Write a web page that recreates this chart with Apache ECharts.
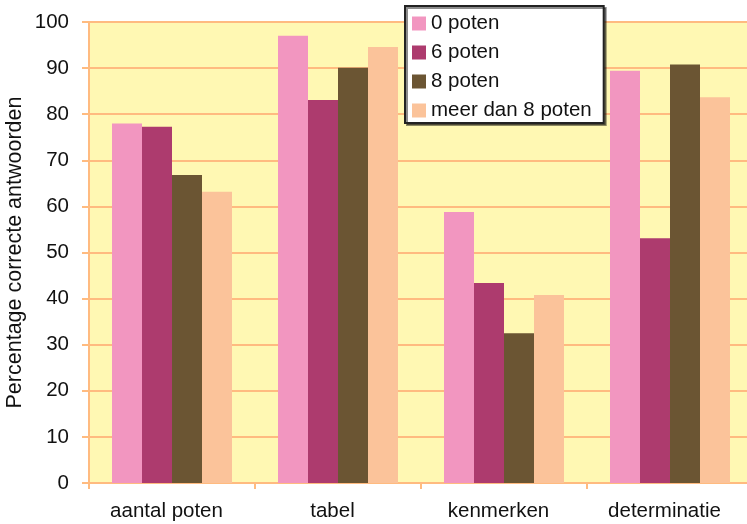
<!DOCTYPE html>
<html><head><meta charset="utf-8">
<script src="https://cdn.jsdelivr.net/npm/echarts@6/dist/echarts.min.js"></script>
<style>html,body{margin:0;padding:0;background:#fff}#c{width:747px;height:524px}</style>
</head><body><div id="c"></div>
<script>
const categories = ['aantal poten', 'tabel', 'kenmerken', 'determinatie'];
const seriesNames = ['0 poten', '6 poten', '8 poten', 'meer dan 8 poten'];
const poten0 = [78.0, 97.0, 58.8, 89.4];
const poten6 = [77.3, 83.1, 43.4, 53.1];
const poten8 = [66.8, 90.1, 32.5, 90.8];
const potenMeer = [63.2, 94.6, 40.8, 83.7];
const yTicks = [0, 10, 20, 30, 40, 50, 60, 70, 80, 90, 100];
const colors = ['#F296C0', '#AD3B6E', '#6B5533', '#FBC39A'];
const values = [poten0, poten6, poten8, potenMeer];

const chart = echarts.init(document.getElementById('c'), null, {renderer: 'canvas'});
const font = 'Liberation Sans, Arial, sans-serif';
const fs = 20.5;
chart.setOption({
  animation: false,
  color: colors,
  grid: {left: 89, width: 664, top: 22, bottom: 41, show: true, backgroundColor: '#FFF8B3', borderWidth: 0,
         containLabel: false, outerBoundsMode: 'none'},
  legend: {
    orient: 'vertical', left: 405, top: 6,
    backgroundColor: '#fff', borderColor: '#222', borderWidth: 2,
    padding: [7, 12, 2, 7],
    shadowColor: 'rgba(0,0,0,0.45)', shadowOffsetX: 2, shadowOffsetY: 2, shadowBlur: 0,
    icon: 'rect', itemWidth: 14, itemHeight: 14, itemGap: 8,
    textStyle: {fontFamily: font, fontSize: fs, color: '#111'},
    data: seriesNames
  },
  xAxis: {
    type: 'category', data: categories,
    axisLine: {lineStyle: {color: '#FFBB80', width: 2}},
    axisTick: {show: true, length: 6, lineStyle: {color: '#FFBB80', width: 2}},
    axisLabel: {fontFamily: font, fontSize: fs, color: '#111', margin: 18, padding: [0, 11, 0, 0]},
    splitLine: {show: false}
  },
  yAxis: {
    type: 'value', min: yTicks[0], max: yTicks[yTicks.length - 1], interval: 10,
    name: 'Percentage correcte antwoorden', nameLocation: 'middle', nameGap: 63,
    nameMoveOverlap: false,
    nameTextStyle: {fontFamily: font, fontSize: 21.5, color: '#111'},
    axisLine: {show: true, lineStyle: {color: '#FFBB80', width: 2}},
    axisTick: {show: true, length: 7, lineStyle: {color: '#FFBB80', width: 2}},
    axisLabel: {fontFamily: font, fontSize: fs, color: '#111', margin: 20},
    splitLine: {show: true, lineStyle: {color: '#FFBB80', width: 2}}
  },
  series: values.map((v, i) => ({
    name: seriesNames[i], type: 'bar', data: v,
    barWidth: 30, barGap: '0%',
    itemStyle: {color: colors[i]}
  }))
});
</script></body></html>
